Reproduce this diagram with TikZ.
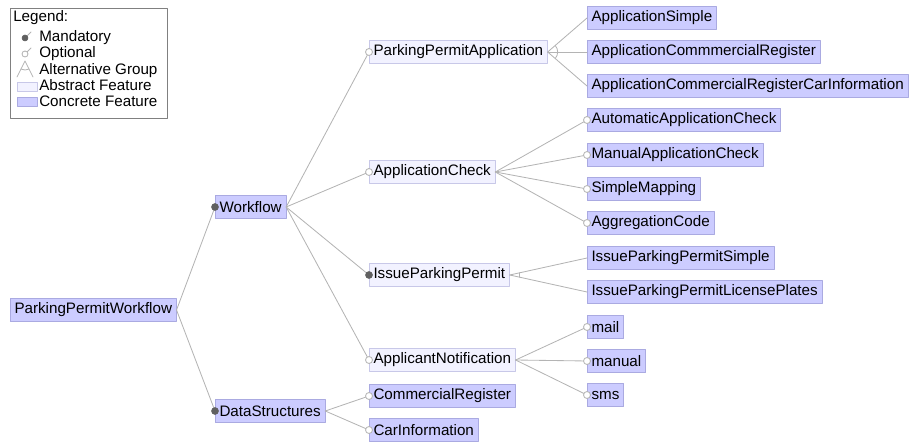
\documentclass[tikz,border=0pt]{standalone}
\usepackage{fontspec}
\setmainfont{Liberation Sans}
\usepackage{tikz}
\usetikzlibrary{arrows.meta,calc}
\definecolor{concfill}{RGB}{204,204,255}
\definecolor{concline}{RGB}{170,170,225}
\definecolor{absfill}{RGB}{242,242,255}
\definecolor{absline}{RGB}{200,200,232}
\definecolor{edgegray}{RGB}{180,180,180}
\definecolor{dotgray}{RGB}{96,96,96}
\begin{document}
\begin{tikzpicture}[line cap=round,line join=round,x=0.025cm,y=0.025cm,
    feat/.style={draw,anchor=west,minimum height=0.58cm,inner xsep=3pt,inner ysep=0pt,font=\fontsize{10.8}{13}\selectfont},
    concrete/.style={feat,fill=concfill,draw=concline},
    abstract/.style={feat,fill=absfill,draw=absline},
    featedge/.style={draw=edgegray,line width=0.6pt},
    mand/.style={fill=dotgray,draw=dotgray,line width=0.4pt},
    opt/.style={fill=white,draw=edgegray,line width=0.6pt},
    legtext/.style={anchor=base west,inner sep=0pt,font=\fontsize{10.8}{13}\selectfont}]
    \useasboundingbox (0,0) rectangle (912,-444);
    % legend
    \draw [line width=0.5pt,draw=gray] (10,-8) rectangle (167,-118);
    \node[legtext] (lghead) at (13,-22) {Legend:};
    \node[legtext] (lgmand) at (39,-42) {Mandatory};
    \node[legtext] (lgopt) at (39,-58) {Optional};
    \node[legtext] (lgalt) at (39,-74.5) {Alternative Group};
    \node[legtext] (lgabs) at (39,-91) {Abstract Feature};
    \node[legtext] (lgconc) at (39,-107) {Concrete Feature};
    \draw [featedge] (25,-38)-- (31,-32);
    \filldraw [mand] (25,-38) circle (3);
    \draw [featedge] (25,-54)-- (31,-48);
    \filldraw [opt] (25,-54) circle (3);
    \draw [featedge] (17,-77)-- (25,-61)-- (33,-77);
    \draw [featedge] (25,-61) ++(-117:9) arc[start angle=-117,end angle=-63,radius=9];
    \filldraw [fill=absfill,draw=absline] (17,-82) rectangle (37,-91);
    \filldraw [fill=concfill,draw=concline] (17,-97) rectangle (37,-106);
    % features
    \node[concrete] (ppw) at (10,-310) {ParkingPermitWorkflow};
    \node[concrete] (wf) at (215,-207) {Workflow};
    \node[concrete] (ds) at (215,-411) {DataStructures};
    \node[abstract] (ppa) at (369,-52) {ParkingPermitApplication};
    \node[abstract] (ac) at (369,-172) {ApplicationCheck};
    \node[abstract] (ipp) at (369,-275) {IssueParkingPermit};
    \node[abstract] (an) at (369,-360) {ApplicantNotification};
    \node[concrete] (cr) at (369,-396) {CommercialRegister};
    \node[concrete] (ci) at (369,-430) {CarInformation};
    \node[concrete] (as) at (587,-18) {ApplicationSimple};
    \node[concrete] (acr) at (587,-52) {ApplicationCommmercialRegister};
    \node[concrete] (acrci) at (587,-86) {ApplicationCommercialRegisterCarInformation};
    \node[concrete] (aac) at (587,-120) {AutomaticApplicationCheck};
    \node[concrete] (mac) at (587,-155) {ManualApplicationCheck};
    \node[concrete] (sm) at (587,-189) {SimpleMapping};
    \node[concrete] (agc) at (587,-223) {AggregationCode};
    \node[concrete] (ipps) at (587,-258) {IssueParkingPermitSimple};
    \node[concrete] (ippl) at (587,-292) {IssueParkingPermitLicensePlates};
    \node[concrete] (ml) at (587,-327) {mail};
    \node[concrete] (mn) at (587,-361) {manual};
    \node[concrete] (sms) at (587,-395) {sms};
    % edges
    \draw [featedge] (ppw.east)-- (wf.west);
    \draw [featedge] (ppw.east)-- (ds.west);
    \draw [featedge] (wf.east)-- (ppa.west);
    \draw [featedge] (wf.east)-- (ac.west);
    \draw [featedge] (wf.east)-- (ipp.west);
    \draw [featedge] (wf.east)-- (an.west);
    \draw [featedge] (ds.east)-- (cr.west);
    \draw [featedge] (ds.east)-- (ci.west);
    \draw [featedge] (ppa.east)-- (as.west);
    \draw [featedge] (ppa.east)-- (acr.west);
    \draw [featedge] (ppa.east)-- (acrci.west);
    \draw [featedge] (ac.east)-- (aac.west);
    \draw [featedge] (ac.east)-- (mac.west);
    \draw [featedge] (ac.east)-- (sm.west);
    \draw [featedge] (ac.east)-- (agc.west);
    \draw [featedge] (ipp.east)-- (ipps.west);
    \draw [featedge] (ipp.east)-- (ippl.west);
    \draw [featedge] (an.east)-- (ml.west);
    \draw [featedge] (an.east)-- (mn.west);
    \draw [featedge] (an.east)-- (sms.west);
    % alternative groups
    \draw [featedge] (ppa.east) ++(-41:10) arc[start angle=-41,end angle=41,radius=10];
    \draw [featedge] (ipp.east) ++(-13:10) arc[start angle=-13,end angle=13,radius=10];
    % mandatory and optional marks
    \foreach \f in {wf,ds,ipp}
        \filldraw [mand] (\f.west) circle (3.5);
    \foreach \f in {ppa,ac,an,cr,ci,aac,mac,sm,agc,ml,mn,sms}
        \filldraw [opt] (\f.west) circle (3.5);
\end{tikzpicture}
\end{document}
